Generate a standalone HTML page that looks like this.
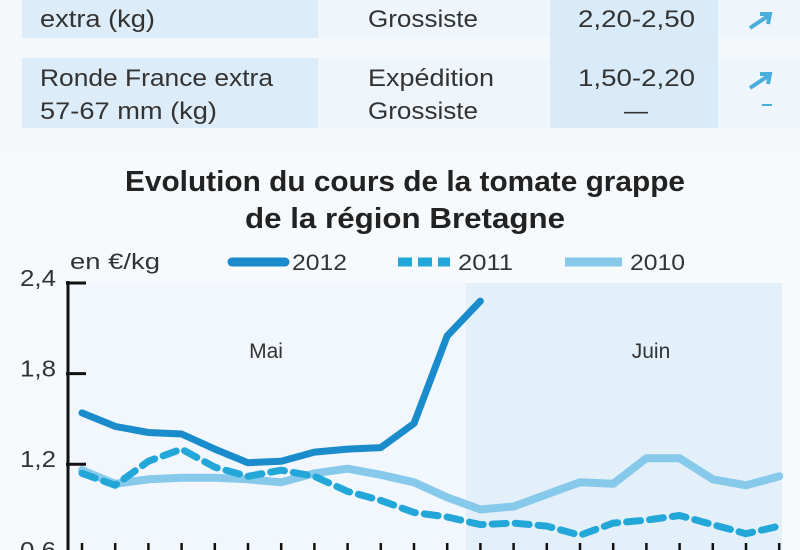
<!DOCTYPE html>
<html><head><meta charset="utf-8"><style>
html,body{margin:0;padding:0;background:#f4f8fb;}
svg{display:block;font-family:"Liberation Sans",sans-serif;}
</style></head><body>
<svg id="chart" width="800" height="550" viewBox="0 0 800 550">
<rect x="0" y="0" width="800" height="550" fill="#f4f8fb"/>
<g>
 <rect x="22" y="0" width="296" height="38" fill="#dcecf8"/>
 <rect x="318" y="0" width="232" height="38" fill="#eef6fc"/>
 <rect x="550" y="0" width="168" height="128" fill="#d9ebf8"/>
 <rect x="718" y="0" width="82" height="38" fill="#eef6fc"/>
 <rect x="22" y="58" width="296" height="70" fill="#dcecf8"/>
 <rect x="318" y="58" width="232" height="70" fill="#eef6fc"/>
 <rect x="718" y="58" width="82" height="70" fill="#eef6fc"/>
 <g font-size="24" fill="#333">
  <text x="40" y="27" textLength="115" lengthAdjust="spacingAndGlyphs">extra (kg)</text>
  <text x="368" y="27" textLength="110" lengthAdjust="spacingAndGlyphs">Grossiste</text>
  <text x="578" y="27" textLength="117" lengthAdjust="spacingAndGlyphs">2,20-2,50</text>
  <text x="40" y="86" textLength="233" lengthAdjust="spacingAndGlyphs">Ronde France extra</text>
  <text x="40" y="119" textLength="177" lengthAdjust="spacingAndGlyphs">57-67 mm (kg)</text>
  <text x="368" y="86" textLength="126" lengthAdjust="spacingAndGlyphs">Expédition</text>
  <text x="368" y="119" textLength="110" lengthAdjust="spacingAndGlyphs">Grossiste</text>
  <text x="578" y="86" textLength="117" lengthAdjust="spacingAndGlyphs">1,50-2,20</text>
  <text x="624" y="119">—</text>
 </g>
 <g stroke="#4aaedb" stroke-width="4" fill="#4aaedb">
  <path d="M750 28 L768 16 M760 14 L770 14 L768 24" fill="none"/>
  <path d="M750 88 L768 76 M760 74 L770 74 L768 84" fill="none"/>
  <line x1="762" y1="105" x2="772" y2="105" stroke-width="2"/>
 </g>
</g>
<rect x="0" y="150" width="800" height="400" fill="#f7fafc"/>
<text x="405" y="191" text-anchor="middle" font-size="29" font-weight="bold" fill="#222" textLength="560" lengthAdjust="spacingAndGlyphs">Evolution du cours de la tomate grappe</text>
<text x="405" y="228" text-anchor="middle" font-size="29" font-weight="bold" fill="#222" textLength="320" lengthAdjust="spacingAndGlyphs">de la région Bretagne</text>
<text x="70" y="269" font-size="22" fill="#333" textLength="90" lengthAdjust="spacingAndGlyphs">en €/kg</text>
<g>
 <line x1="232" y1="262" x2="285" y2="262" stroke="#1a8ccc" stroke-width="9" stroke-linecap="round"/>
 <text x="292" y="270" font-size="22" fill="#333" textLength="55" lengthAdjust="spacingAndGlyphs">2012</text>
 <line x1="398" y1="262" x2="450" y2="262" stroke="#22a7d8" stroke-width="9" stroke-dasharray="14 6"/>
 <text x="458" y="270" font-size="22" fill="#333" textLength="55" lengthAdjust="spacingAndGlyphs">2011</text>
 <line x1="565" y1="262" x2="622" y2="262" stroke="#86c9ea" stroke-width="9"/>
 <text x="630" y="270" font-size="22" fill="#333" textLength="55" lengthAdjust="spacingAndGlyphs">2010</text>
</g>
<rect x="68" y="283" width="398" height="267" fill="#f1f7fc"/>
<rect x="466" y="283" width="316" height="267" fill="#e4f0f9"/>
<text x="266" y="358" text-anchor="middle" font-size="21" fill="#333">Mai</text>
<text x="651" y="358" text-anchor="middle" font-size="21" fill="#333">Juin</text>
<g id="axes"></g>
<g id="series"></g>
</svg>
<script>
const yTicks = [2.4, 1.8, 1.2, 0.6];
const yTickLabels = ["2,4", "1,8", "1,2", "0,6"];
const nPeriods = 22;
const s2012 = [1.54, 1.45, 1.41, 1.40, 1.30, 1.21, 1.22, 1.28, 1.30, 1.31, 1.47, 2.05, 2.28];
const s2011 = [1.14, 1.06, 1.22, 1.30, 1.18, 1.12, 1.16, 1.12, 1.02, 0.96, 0.88, 0.85, 0.80, 0.81, 0.79, 0.73, 0.81, 0.83, 0.86, 0.80, 0.74, 0.79];
const s2010 = [1.16, 1.07, 1.10, 1.11, 1.11, 1.10, 1.08, 1.14, 1.17, 1.13, 1.08, 0.98, 0.90, 0.92, 1.00, 1.08, 1.07, 1.24, 1.24, 1.10, 1.06, 1.12];
const NS = "http://www.w3.org/2000/svg";
function xs(i){ return 82 + i * 33.2; }
function ys(v){ return 283 + (2.4 - v) * 151; }
const axes = document.getElementById('axes');
const series = document.getElementById('series');
function mk(tag, attrs, parent){ const e = document.createElementNS(NS, tag); for (const k in attrs) e.setAttribute(k, attrs[k]); parent.appendChild(e); return e; }
const yl = mk('line', {x1:68, y1:ys(2.4)-2, x2:68, y2:550, stroke:'#111', 'stroke-width':3}, axes);


yTicks.forEach((v, k) => {
  const t = mk('line', {x1:66, y1:ys(v), x2:86, y2:ys(v), stroke:'#111', 'stroke-width':3}, axes);
  
  
  const lb = mk('text', {x:20, y:ys(v)+3, 'font-size':23, fill:'#333', textLength:36, lengthAdjust:'spacingAndGlyphs'}, axes);
  lb.textContent = yTickLabels[k];
  
  
});
for (let i = 0; i < nPeriods; i++) {
  const t = mk('line', {x1:xs(i), y1:543, x2:xs(i), y2:550, stroke:'#111', 'stroke-width':2.5}, axes);
  
  
}
function line(data, color, dash, name, width){
  const d = data.map((v, i) => (i ? 'L' : 'M') + xs(i).toFixed(1) + ' ' + ys(v).toFixed(1)).join(' ');
  const p = mk('path', {d:d, fill:'none', stroke:color, 'stroke-width':width, 'stroke-linejoin':'round', 'stroke-linecap':'round'}, series);
  if (dash) p.setAttribute('stroke-dasharray', dash);
  
  
}
line(s2010, '#86c9ea', null, 'series-2010-line', 8);
line(s2011, '#22a7d8', '14 9', 'series-2011-line', 7);
line(s2012, '#1a8ccc', null, 'series-2012-line', 7);
</script>
</body></html>
